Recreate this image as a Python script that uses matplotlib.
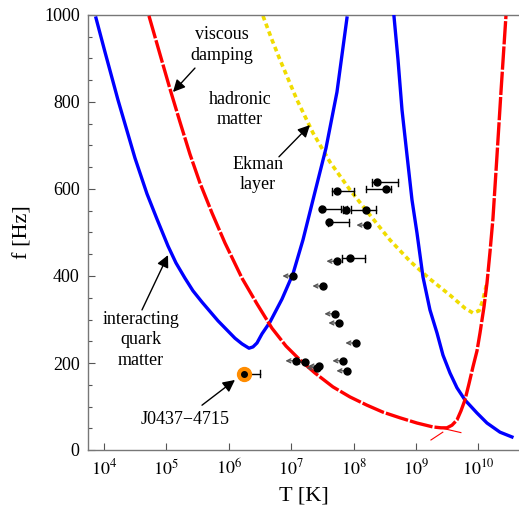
import numpy as np
import matplotlib
matplotlib.use("Agg")
import matplotlib.pyplot as plt

plt.rcParams['font.family'] = ['Liberation Serif', 'DejaVu Serif']
plt.rcParams['mathtext.fontset'] = 'stix'

# ---- data (log10 T, f in Hz) ----
blue_left_logT = [3.872, 4.016, 4.224, 4.497, 4.689, 4.849, 5.026, 5.154, 5.298, 5.426,
                  5.571, 5.827, 6.099, 6.212, 6.324, 6.388, 6.452, 6.532, 6.660, 6.853,
                  7.029, 7.189, 7.381, 7.558, 7.734, 7.894]
blue_left_f = [993, 915, 805, 671, 589, 531, 469, 430, 395, 366,
               340, 297, 257, 244, 234, 237, 246, 267, 294, 347,
               405, 483, 593, 694, 823, 993]

blue_right_logT = [8.647, 8.712, 8.776, 8.856, 8.936, 9.016, 9.112, 9.224, 9.337, 9.433,
                   9.545, 9.657, 9.785, 9.978, 10.138, 10.346, 10.538]
blue_right_f = [998, 897, 782, 678, 575, 499, 398, 322, 269, 218,
                177, 143, 115, 85, 62, 41, 30]

red_logT = [4.721, 4.897, 5.058, 5.218, 5.378, 5.538, 5.731, 5.939, 6.212, 6.452,
            6.692, 6.917, 7.141, 7.381, 7.670, 7.942, 8.215, 8.471, 8.744, 9.016,
            9.272, 9.401, 9.497, 9.577, 9.657, 9.721, 9.785, 9.849, 9.913, 9.978,
            10.026, 10.090, 10.138, 10.186, 10.234, 10.298, 10.362, 10.442]
red_f = [998, 910, 830, 754, 680, 614, 545, 476, 395, 336,
         280, 239, 207, 177, 145, 122, 103, 87, 74, 62,
         53, 51, 51, 57, 69, 90, 115, 152, 191, 228,
         269, 329, 384, 455, 533, 676, 823, 998]

yellow_logT = [6.548, 6.692, 6.821, 7.093, 7.349, 7.622, 7.942, 8.263, 8.583, 8.904,
               9.224, 9.545, 9.785, 9.913, 10.010, 10.074, 10.138]
yellow_f = [998, 943, 897, 805, 729, 662, 598, 540, 483, 434,
            393, 356, 326, 315, 320, 345, 386]

# pulsars with temperature error bars (log10 T, f, log10 T low, log10 T high)
eb_logT = [8.375, 8.519, 7.734, 7.494, 7.878, 8.199, 7.606, 7.942]
eb_f = [616, 600, 595, 554, 552, 552, 524, 441]
eb_lo = [8.295, 8.196, 7.654, 7.478, 7.830, 7.958, 7.590, 7.814]
eb_hi = [8.712, 8.599, 8.006, 7.798, 7.900, 8.359, 7.926, 8.183]

# pulsars with upper limits on temperature
ul_logT = [8.215, 7.734, 7.029, 7.510, 7.702, 7.766, 8.038, 7.077, 7.221, 7.413,
           7.446, 7.830, 7.894]
ul_f = [517, 434, 400, 377, 313, 292, 246, 205, 202, 189, 193, 205, 182]

# J0437-4715
j_logT = 6.244
j_f = 175
j_hi = 6.500

fig = plt.figure(figsize=(5.19, 5.13), dpi=100)
ax = fig.add_axes([88/519, (513-450)/513, (519-88)/519, (450-15)/513])
ax.set_xscale('log')
ax.set_xlim(10**3.744, 10**10.651)
ax.set_ylim(0, 1000)

def T(a):
    return 10**np.asarray(a, dtype=float)

ax.plot(T(blue_left_logT), blue_left_f, color='#0000ff', lw=2.4, zorder=3)
ax.plot(T(blue_right_logT), blue_right_f, color='#0000ff', lw=2.4, zorder=3)
ax.plot(T(yellow_logT), yellow_f, color='#f0dc00', lw=2.6, dashes=(1.3, 1.0), zorder=2)
ax.plot(T(red_logT), red_f, color='#ff0000', lw=2.4, dashes=(7, 0.6), zorder=4)
# thin red strokes near the bend
ax.plot(T([9.33, 9.72]), [53, 40], color='#ff0000', lw=0.8, zorder=4)
ax.plot(T([9.24, 9.43]), [23, 41], color='#ff0000', lw=0.8, zorder=4)

# error bars
for lt, f, lo, hi in zip(eb_logT, eb_f, eb_lo, eb_hi):
    ax.plot([10**lo, 10**hi], [f, f], color='black', lw=1.0, zorder=5)
    for e in (lo, hi):
        ax.plot([10**e, 10**e], [f - 8, f + 8], color='black', lw=1.0, zorder=5)
ax.plot(T(eb_logT), eb_f, 'o', color='black', ms=5, zorder=6)

# upper limits
for lt, f in zip(ul_logT, ul_f):
    ax.annotate('', xy=(10**(lt - 0.17), f), xytext=(10**lt, f),
                arrowprops=dict(arrowstyle='->', color='#555555', lw=1.0,
                                mutation_scale=7, shrinkA=0, shrinkB=0), zorder=5)
ax.plot(T(ul_logT), ul_f, 'o', color='black', ms=5, zorder=6)

# J0437-4715
ax.plot([10**j_logT, 10**j_hi], [j_f, j_f], color='black', lw=1.0, zorder=5)
ax.plot([10**j_hi, 10**j_hi], [j_f - 8, j_f + 8], color='black', lw=1.0, zorder=5)
ax.plot(10**j_logT, j_f, 'o', color='#ff8c00', ms=10, zorder=6)
ax.plot(10**j_logT, j_f, 'o', color='black', ms=4, zorder=7)

fs = 13
ap = dict(arrowstyle='-|>', color='black', lw=1.0, mutation_scale=18, shrinkA=0, shrinkB=0)
ax.text(10**5.891, 931, 'viscous\ndamping', ha='center', va='center', fontsize=fs, linespacing=1.25)
ax.annotate('', xy=(10**5.106, 823), xytext=(10**5.458, 878), arrowprops=ap)
ax.text(10**6.179, 782, 'hadronic\nmatter', ha='center', va='center', fontsize=fs, linespacing=1.25)
ax.text(10**6.468, 634, 'Ekman\nlayer', ha='center', va='center', fontsize=fs, linespacing=1.25)
ax.annotate('', xy=(10**7.301, 747), xytext=(10**6.804, 674), arrowprops=ap)
ax.text(10**4.593, 253, 'interacting\nquark\nmatter', ha='center', va='center', fontsize=fs, linespacing=1.25)
ax.annotate('', xy=(10**5.026, 448), xytext=(10**4.609, 322), arrowprops=ap)
ax.text(10**5.298, 69, 'J0437\u22124715', ha='center', va='center', fontsize=fs)
ax.annotate('', xy=(10**6.099, 161), xytext=(10**5.571, 103), arrowprops=ap)

# axes styling
ax.spines['right'].set_visible(False)
for s in ['left', 'bottom', 'top']:
    ax.spines[s].set_color('#777777')
    ax.spines[s].set_linewidth(1.0)

ax.set_xticks(T([4, 5, 6, 7, 8, 9, 10]))
ax.set_xticklabels([r'$10^{%d}$' % k for k in range(4, 11)])
ax.xaxis.set_minor_locator(matplotlib.ticker.NullLocator())
ax.set_yticks([0, 200, 400, 600, 800, 1000])
ax.set_yticks(np.arange(0, 1001, 50), minor=True)
ax.tick_params(axis='both', which='major', direction='in', length=5, width=0.8,
               color='#555555', labelsize=13, pad=6)
ax.tick_params(axis='y', which='minor', direction='in', length=3, width=0.8, color='#555555')
ax.tick_params(top=False, right=False)

ax.set_xlabel('T [K]', fontsize=16, labelpad=6)
ax.set_ylabel('f [Hz]', fontsize=16, labelpad=8)

fig.savefig('out.png', dpi=100)
